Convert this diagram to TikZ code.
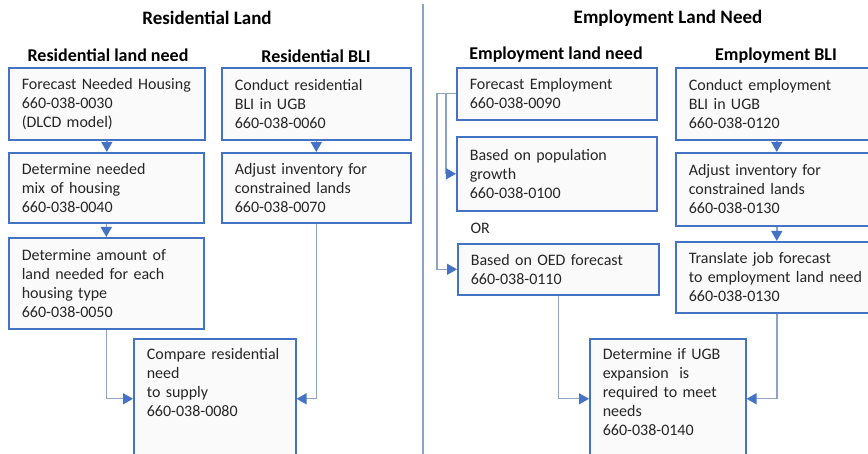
\documentclass[tikz,border=0pt]{standalone}
\usepackage{fontspec}
\setmainfont{Carlito}
\usetikzlibrary{arrows.meta}
\definecolor{boxblue}{HTML}{4472C4}
\definecolor{boxfill}{HTML}{FAFAFA}
\definecolor{linegray}{HTML}{8EA2C6}
\definecolor{textgray}{HTML}{262626}
\tikzset{
    box/.style 2 args={draw=boxblue, line width=1.6pt, fill=boxfill, anchor=north west,
        align=left, text width=#1, minimum height=#2, inner xsep=13pt, inner ysep=3pt,
        text=textgray, font=\fontsize{16}{19}\selectfont},
    conn/.style={draw=linegray, line width=1.4pt, -{Triangle[length=10pt, width=11pt, color=boxblue]}},
    title/.style={font=\fontsize{19}{22}\selectfont\bfseries},
    heading/.style={font=\fontsize{18}{21}\selectfont\bfseries},
}
\begin{document}
\begin{tikzpicture}[x=1pt, y=-1pt]
            \useasboundingbox (0,0) rectangle (868,454);
            \fill[white] (0,0) rectangle (868,454);

            \node[title] (resland) at (207,18) {Residential Land};
            \node[title] (empland) at (668,18) {Employment Land Need};
            \node[heading] (resneed) at (108,55) {Residential land need};
            \node[heading] (resbli) at (316,56) {Residential BLI};
            \node[heading] (empneed) at (556,55) {Employment land need};
            \node[heading] (empbli) at (776,56) {Employment BLI};
            \draw[linegray, line width=1.5pt] (423,4) -- (423,454);

            \node[box={170pt}{72pt}] (fnh) at (8,67) {Forecast Needed Housing\\660-038-0030\\(DLCD model)};
            \node[box={169pt}{70pt}] (mix) at (8,152) {Determine needed\\mix of housing\\660-038-0040};
            \node[box={169pt}{91pt}] (amt) at (8,237) {Determine amount of\\land needed for each\\housing type\\660-038-0050};
            \node[box={136pt}{120pt}] (cmp) at (133,338) {\parbox[t][101pt][t]{136pt}{Compare residential\\need\\to supply\\660-038-0080}};
            \node[box={163pt}{72pt}] (crb) at (221,67) {Conduct residential\\BLI in UGB\\660-038-0060};
            \node[box={163pt}{70pt}] (adjr) at (221,152) {Adjust inventory for\\constrained lands\\660-038-0070};

            \node[box={174pt}{52pt}] (fce) at (456,67) {Forecast Employment\\660-038-0090};
            \node[box={174pt}{74pt}] (pop) at (456,136) {Based on population\\growth\\660-038-0100};
            \node[anchor=west, text=textgray, font=\fontsize{16}{19}\selectfont] (or) at (467,228) {OR};
            \node[box={175pt}{51pt}] (oed) at (457,243) {Based on OED forecast\\660-038-0110};
            \node[box={176pt}{72pt}] (ceb) at (675,67) {Conduct employment\\BLI in UGB\\660-038-0120};
            \node[box={176pt}{73pt}] (adje) at (675,152) {Adjust inventory for\\constrained lands\\660-038-0130};
            \node[box={176pt}{71pt}] (tjf) at (675,241) {Translate job forecast\\to employment land need\\660-038-0130};
            \node[box={130pt}{120pt}] (ugb) at (589,338) {\parbox[t][101pt][t]{130pt}{Determine if UGB\\expansion\ \ is\\required to meet\\needs\\660-038-0140}};

            \foreach \a/\b in {fnh/mix, mix/amt, crb/adjr, ceb/adje, adje/tjf} {
                \draw[conn] (\a.south) -- (\a.south |- \b.north);
            }
            \draw[conn] (amt.south) |- (cmp.west);
            \draw[conn] (adjr.south) |- (cmp.east);
            \draw[conn] (fce.west) -- ++(-10,0) |- (pop.west);
            \draw[conn] (fce.west) -- ++(-19,0) |- (oed.west);
            \draw[conn] (oed.south) |- (ugb.west);
            \draw[conn] (tjf.south) |- (ugb.east);
\end{tikzpicture}
\end{document}
